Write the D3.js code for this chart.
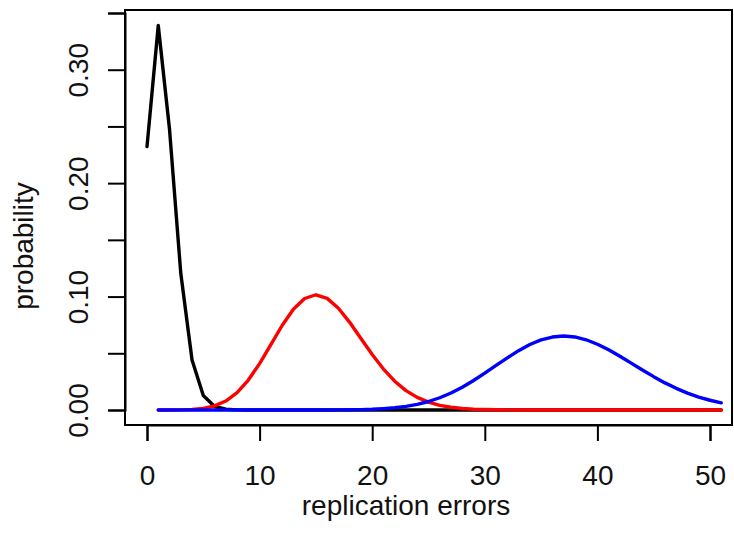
<!DOCTYPE html>
<html>

<head>
  <meta charset='utf-8'>
  <script src="https://cdn.jsdelivr.net/npm/d3@7"></script>
  <style>
    body { margin: 0; background: #fff; }
    text { font-family: "Liberation Sans", Arial, sans-serif; }
  </style>
</head>

<body>
</body>
<script>
  // replication errors (x) and the three probability curves
  let errorsBlack = [0, 1, 2, 3, 4, 5, 6, 7, 8, 9, 10, 11, 12, 13, 14, 15, 16, 17, 18, 19, 20, 21, 22, 23, 24, 25,
    26, 27, 28, 29, 30, 31, 32, 33, 34, 35, 36, 37, 38, 39, 40, 41, 42, 43, 44, 45, 46, 47, 48, 49, 50, 51]
  let errors = errorsBlack.slice(1)

  let probBlack = [0.2322, 0.3390, 0.2475, 0.1205, 0.0440, 0.0128, 0.0031, 0.0007, 0.0001, 0, 0, 0, 0, 0, 0, 0, 0, 0,
    0, 0, 0, 0, 0, 0, 0, 0, 0, 0, 0, 0, 0, 0, 0, 0, 0, 0, 0, 0, 0, 0, 0, 0, 0, 0, 0, 0, 0, 0, 0, 0, 0, 0]
  let probRed = [0, 0, 0.0001, 0.0005, 0.0014, 0.0036, 0.0079, 0.0153, 0.0264, 0.0409, 0.0577, 0.0745, 0.0888,
    0.0983, 0.1016, 0.0984, 0.0897, 0.0773, 0.0630, 0.0489, 0.0361, 0.0254, 0.0171, 0.0111, 0.0069, 0.0041,
    0.0024, 0.0013, 0.0007, 0.0004, 0.0002, 0.0001, 0, 0, 0, 0, 0, 0, 0, 0, 0, 0, 0, 0, 0, 0, 0, 0, 0, 0, 0]
  let probBlue = [0, 0, 0, 0, 0, 0, 0, 0, 0, 0, 0, 0, 0, 0, 0, 0, 0.0001, 0.0002, 0.0003, 0.0006, 0.0012,
    0.0020, 0.0032, 0.0050, 0.0075, 0.0108, 0.0150, 0.0201, 0.0260, 0.0325, 0.0393, 0.0460, 0.0523, 0.0577,
    0.0618, 0.0643, 0.0652, 0.0644, 0.0619, 0.0580, 0.0531, 0.0474, 0.0413, 0.0352, 0.0294, 0.0239, 0.0191,
    0.0149, 0.0114, 0.0086, 0.0063]

  let xTicks = [0, 10, 20, 30, 40, 50]
  let yTicks = [0, 0.05, 0.10, 0.15, 0.20, 0.25, 0.30, 0.35]
  let yLabelled = [0, 0.10, 0.20, 0.30]

  let w = 734
  let h = 533
  let box = { left: 125, top: 10, right: 732, bottom: 425 }
  let fontSize = 28

  let xScale = d3.scaleLinear()
    .domain([0, 50])
    .range([147, 710])

  let yScale = d3.scaleLinear()
    .domain([0, 0.35])
    .range([410, 13])

  let svg = d3.select('body')
    .append('svg')
    .attr('width', w)
    .attr('height', h)

  // plot box
  svg.append('rect')
    .attr('x', box.left)
    .attr('y', box.top)
    .attr('width', box.right - box.left)
    .attr('height', box.bottom - box.top)
    .attr('fill', 'none')
    .attr('stroke', '#000')
    .attr('stroke-width', 2)

  // curves: black first, then red, blue on top
  let series = [
    { x: errorsBlack, y: probBlack, color: '#000000' },
    { x: errors, y: probRed, color: '#ff0000' },
    { x: errors, y: probBlue, color: '#0000ff' }
  ]
  let line = d3.line()
    .x(d => xScale(d[0]))
    .y(d => yScale(d[1]))

  svg.selectAll('path.curve')
    .data(series)
    .enter()
    .append('path')
    .attr('class', 'curve')
    .attr('d', s => line(d3.zip(s.x, s.y)))
    .attr('fill', 'none')
    .attr('stroke', s => s.color)
    .attr('stroke-width', 3.4)
    .attr('stroke-linejoin', 'round')
    .attr('stroke-linecap', 'round')

  //axis
  let xAxis = d3.axisBottom(xScale)
    .tickValues(xTicks)
    .tickSize(16)
    .tickPadding(24)
    .tickFormat(d3.format('d'))

  let gx = svg.append('g')
    .attr('transform', 'translate(0,' + box.bottom + ')')
    .call(xAxis)
  gx.select('.domain').attr('stroke-width', 2)
  gx.selectAll('.tick line').attr('stroke-width', 2)
  gx.selectAll('.tick text')
    .attr('font-size', fontSize)
    .attr('font-family', '"Liberation Sans", Arial, sans-serif')
    .attr('fill', '#111')

  let yAxis = d3.axisLeft(yScale)
    .tickValues(yTicks)
    .tickSize(17)
    .tickFormat(d => yLabelled.some(v => Math.abs(v - d) < 1e-9) ? d3.format('.2f')(d) : '')

  let gy = svg.append('g')
    .attr('transform', 'translate(' + box.left + ',0)')
    .call(yAxis)
  gy.select('.domain').attr('stroke-width', 2)
  gy.selectAll('.tick line').attr('stroke-width', 2)
  gy.selectAll('.tick text')
    .attr('font-size', fontSize)
    .attr('font-family', '"Liberation Sans", Arial, sans-serif')
    .attr('fill', '#111')
    .attr('text-anchor', 'middle')
    .attr('x', 0)
    .attr('y', -37)
    .attr('dy', null)
    .attr('transform', 'rotate(-90)')

  // axis titles
  svg.append('text')
    .attr('x', 406)
    .attr('y', 515)
    .attr('text-anchor', 'middle')
    .attr('font-size', fontSize)
    .attr('fill', '#111')
    .text('replication errors')

  svg.append('text')
    .attr('transform', 'translate(33,246) rotate(-90)')
    .attr('text-anchor', 'middle')
    .attr('font-size', fontSize)
    .attr('fill', '#111')
    .text('probability')
</script>

</html>
